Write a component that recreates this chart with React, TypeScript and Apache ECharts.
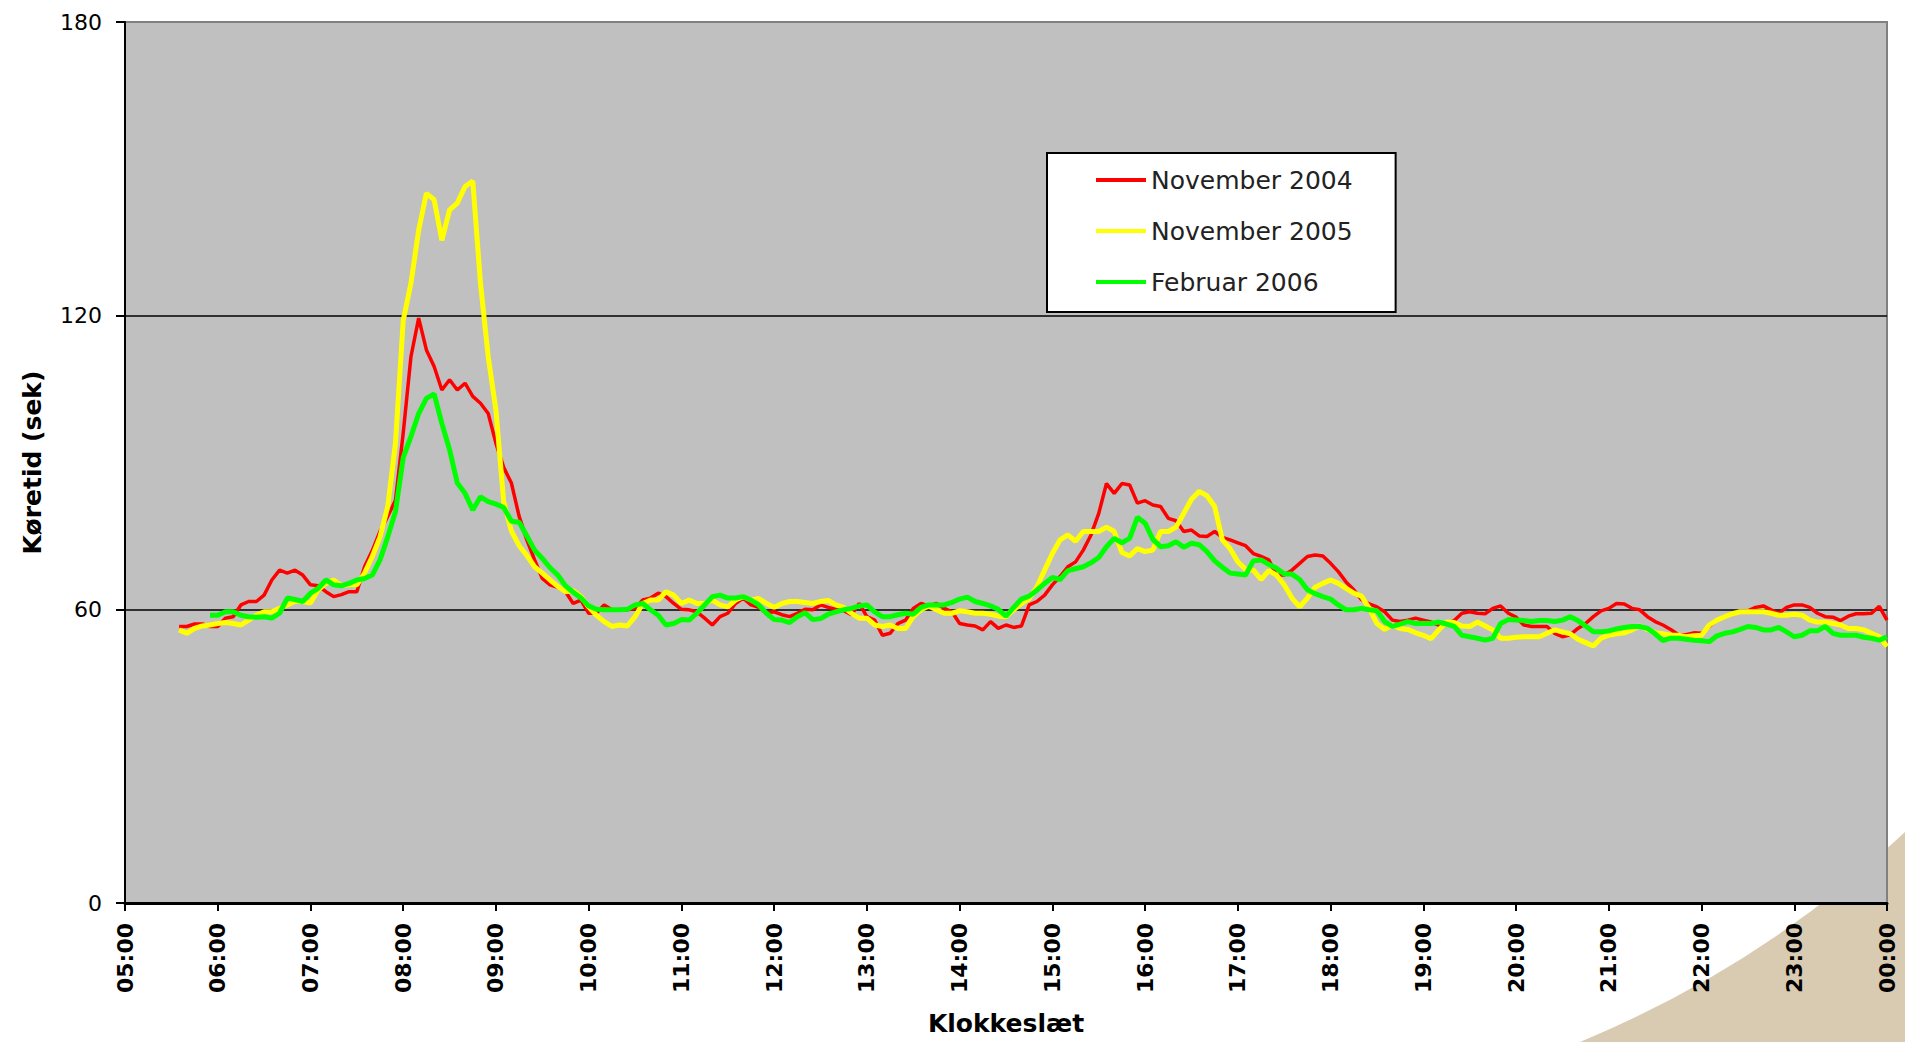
import React, { useEffect, useRef } from "react";
import * as echarts from "echarts";

// time grid: minutes after midnight, 05:30 .. 24:00, every 5 minutes
const minutes: number[] = Array.from({ length: 223 }, (_, i) => 330 + 5 * i);

const xTickLabels = [
  "05:00", "06:00", "07:00", "08:00", "09:00", "10:00", "11:00", "12:00", "13:00", "14:00",
  "15:00", "16:00", "17:00", "18:00", "19:00", "20:00", "21:00", "22:00", "23:00", "00:00",
];

const seriesNames = ["November 2004", "November 2005", "Februar 2006"];

const nov2004: (number | null)[] = [
  null, 56.5, 56.5, 57, 57, 56.5,
  56.5, 58.2, 58.5, 60.9, 61.6, 61.6, 62.9, 66, 68, 67.4, 68, 67,
  65, 64.8, 63.6, 62.6, 63, 63.6, 63.6, 68.7, 72, 75.9, 79, 82.3,
  96, 111.6, 119.5, 113, 109.6, 104.8, 106.9, 104.8, 106.2, 103.5, 102.1, 100,
  93.9, 89, 85.8, 79, 74.2, 70.1, 66.3, 65, 64.5, 63.6, 61.2, 61.9,
  59.2, 59.2, 60.9, 59.9, 59.9, 59.9, 60.2, 61.9, 62.3, 63.3, 62.6, 61.2,
  60, 59.9, 59.5, 58.2, 56.8, 58.5, 59.2, 61.2, 62.3, 60.9, 60.4, 59.3,
  59.5, 58.9, 58.5, 59.2, 60, 59.9, 60.9, 60.4, 60, 59.7, 58.9, 61.2,
  58.5, 57.8, 54.7, 55.1, 57.1, 57.8, 60.2, 61.2, 60.7, 61.2, 60.2, 59.5,
  57.1, 56.8, 56.6, 55.8, 57.5, 56.1, 56.8, 56.3, 56.6, 60.9, 61.6, 62.9,
  65, 66.7, 68.7, 69.7, 72.1, 75.2, 79.6, 85.7, 83.7, 85.7, 85.4, 81.7,
  82.2, 81.3, 81, 78.6, 78.1, 75.9, 76.2, 75, 74.9, 75.9, 74.7, 74.2,
  73.6, 73, 71.4, 70.8, 70.1, 67, 67, 68, 69.4, 70.8, 71.1, 70.9,
  69.4, 67.7, 65.6, 64, 62, 61.1, 60.5, 59.5, 57.8, 57.5, 57.8, 58.2,
  57.8, 57.4, 56.8, 57.1, 57.7, 59.2, 59.5, 59.2, 59.1, 60.2, 60.7, 59.2,
  58.4, 56.8, 56.5, 56.5, 56.5, 55.1, 54.4, 54.8, 56.1, 57.1, 58.5, 59.7,
  60.2, 61.2, 61.1, 60.2, 59.9, 58.5, 57.5, 56.8, 55.9, 54.8, 54.8, 55.2,
  55.1, 56.5, 57.8, 58.5, 59.1, 59.5, 59.7, 60.4, 60.7, 59.9, 59.2, 60.4,
  60.9, 60.9, 60.4, 59.2, 58.5, 58.4, 57.7, 58.6, 59.1, 59.1, 59.2, 60.6,
  57.8,
];

const nov2005: (number | null)[] = [
  null, 55.8, 55.1, 56.1, 56.6, 56.8,
  57.1, 57.3, 57.1, 56.8, 57.8, 58.8, 59.5, 59.5, 60.2, 60.9, 61.6, 61.6,
  61.3, 64, 65.3, 66, 64.8, 65, 65, 67.4, 70.8, 74.8, 81, 94,
  119, 126.6, 137.5, 145, 143.7, 135.4, 141.6, 143, 146.4, 147.5, 126.6, 111.6,
  100.7, 82, 76, 73, 71, 68.7, 67.4, 66, 64.7, 63.6, 63.8, 62.6,
  60.5, 58.8, 57.5, 56.5, 56.8, 56.6, 58.5, 61.2, 61.9, 61.9, 63.6, 62.9,
  61.2, 61.9, 61.2, 61.2, 61.9, 60.9, 60.5, 61.9, 62.6, 61.9, 62.2, 61.2,
  60.4, 61.2, 61.6, 61.6, 61.4, 61.2, 61.6, 61.8, 60.9, 60.4, 59.2, 58.2,
  58.2, 56.8, 56.5, 56.8, 56.1, 56.1, 58.5, 59.9, 60.7, 59.9, 59.2, 59.2,
  59.7, 59.5, 59.2, 59.2, 59, 58.6, 58.5, 59.9, 61.2, 62.2, 64.6, 68,
  71.4, 74.2, 75.2, 73.9, 75.9, 75.9, 75.9, 76.8, 75.9, 71.6, 70.9, 72.4,
  71.8, 72.1, 75.9, 75.9, 76.8, 79.6, 82.5, 84.1, 83.2, 81, 74.2, 72.4,
  69.7, 68.2, 68, 66.1, 67.9, 67, 65, 62.3, 60.5, 62.3, 64.5, 65.3,
  66, 65.3, 64.3, 63.3, 62.7, 60.2, 57.1, 55.9, 56.8, 56.1, 55.9, 55.2,
  54.7, 54, 55.8, 57.4, 57.3, 56.6, 56.5, 57.4, 56.6, 55.8, 54.1, 54.1,
  54.3, 54.4, 54.4, 54.4, 55.1, 55.8, 55.4, 55, 53.9, 53.2, 52.5, 54.1,
  54.7, 55, 55.2, 55.8, 56.6, 55.9, 55.2, 55, 54.7, 54.7, 54.4, 54.6,
  54.7, 56.8, 57.8, 58.5, 59.1, 59.5, 59.5, 59.5, 59.5, 59.2, 58.8, 58.8,
  59, 58.8, 57.8, 57.4, 57.4, 57.1, 56.8, 56.1, 56.1, 55.8, 55.1, 54.4,
  52.4,
];

const feb2006: (number | null)[] = [
  null, null, null, null, null, 58.8,
  58.8, 59.5, 59.5, 58.8, 58.5, 58.4, 58.5, 58.2, 59.2, 62.3, 62, 61.6,
  63.3, 64.3, 66, 65, 64.8, 65.3, 66, 66.3, 67, 70.1, 74.8, 80,
  91, 95.3, 100, 103.1, 104, 98, 92.6, 85.8, 83.7, 80.3, 83, 82,
  81.5, 80.8, 78, 77.8, 75, 72.1, 70.4, 68.5, 67, 64.8, 63.5, 62.3,
  60.7, 60, 59.9, 59.9, 59.9, 60, 60.9, 61.2, 59.9, 58.8, 56.8, 57.1,
  57.9, 57.8, 59.2, 60.9, 62.6, 62.9, 62.3, 62.3, 62.6, 61.9, 60.9, 59.2,
  57.9, 57.8, 57.3, 58.5, 59.3, 57.9, 58.1, 59, 59.5, 59.9, 60.2, 60.7,
  60.9, 59.5, 58.5, 58.5, 58.9, 59.2, 59, 60.4, 60.9, 60.9, 60.9, 61.4,
  62.1, 62.5, 61.6, 61.2, 60.7, 60, 58.6, 60.4, 62.1, 62.7, 63.9, 65.3,
  66.5, 66.1, 67.9, 68.3, 68.7, 69.5, 70.6, 72.8, 74.5, 73.6, 74.5, 78.8,
  77.6, 74.3, 72.8, 73, 73.8, 72.7, 73.5, 73.2, 71.8, 69.9, 68.6, 67.4,
  67.2, 67, 69.9, 70.1, 69.2, 68.4, 67.2, 67.2, 66.1, 64, 63.2, 62.6,
  62.1, 60.9, 59.9, 59.9, 60.2, 59.9, 59.7, 57.5, 56.5, 57, 57.5, 57.1,
  57.1, 57.1, 57.4, 57, 56.5, 54.7, 54.4, 54.1, 53.7, 54.1, 57.1, 57.9,
  57.8, 57.7, 57.5, 57.7, 57.7, 57.5, 57.8, 58.5, 57.7, 56.6, 55.4, 55.4,
  55.6, 56, 56.3, 56.5, 56.5, 56.1, 55, 53.6, 54.1, 54.1, 53.9, 53.7,
  53.6, 53.4, 54.6, 55.1, 55.4, 55.9, 56.5, 56.3, 55.8, 55.8, 56.3, 55.4,
  54.4, 54.7, 55.6, 55.6, 56.5, 55.1, 54.7, 54.7, 54.7, 54.3, 54.1, 53.7,
  54.4,
];

const seriesColors = ["#ff0000", "#ffff00", "#00ff00"];
const seriesWidths = [3.5, 5, 5];

const pairs = (vals: (number | null)[]) =>
  minutes
    .map((m, i) => [m, vals[i]] as [number, number | null])
    .filter((p) => p[1] !== null && p[1] !== undefined);

export default function App() {
  const ref = useRef<HTMLDivElement>(null);

  useEffect(() => {
    if (!ref.current) return;
    echarts.graphic.registerShape(
      "swoosh",
      echarts.graphic.extendPath("M1580 1042 Q1765 965 1905 832 L1905 1042 Z", {})
    );
    const chart = echarts.init(ref.current, null, { renderer: "svg" });
    const font = "DejaVu Sans";
    const allData = [nov2004, nov2005, feb2006];

    chart.setOption({
      animation: false,
      backgroundColor: "#ffffff",
      graphic: [
        {
          type: "swoosh",
          x: 0,
          y: 0,
          z: -10,
          silent: true,
          style: { fill: "#d9cbb1" },
        },
      ],
      grid: {
        left: 125,
        top: 22,
        right: 18,
        bottom: 139,
        show: true,
        backgroundColor: "#c0c0c0",
        borderColor: "#808080",
        borderWidth: 2,
      },
      legend: {
        orient: "vertical",
        left: 1047,
        top: 153,
        backgroundColor: "#ffffff",
        borderColor: "#000000",
        borderWidth: 2,
        borderRadius: 0,
        padding: [12, 43, 15, 49],
        itemWidth: 50,
        itemHeight: 4,
        itemGap: 21,
        icon: "rect",
        textStyle: { fontFamily: font, fontSize: 25, color: "#222222", lineHeight: 30 },
        data: seriesNames,
      },
      xAxis: {
        type: "value",
        min: 300,
        max: 1440,
        interval: 60,
        axisLine: { show: true, onZero: false, lineStyle: { color: "#000", width: 3 } },
        axisTick: { show: true, length: 8, lineStyle: { color: "#000", width: 2 } },
        axisLabel: {
          rotate: 90,
          margin: 20,
          fontFamily: font,
          fontWeight: "bold",
          fontSize: 22,
          color: "#000",
          formatter: (v: number) => xTickLabels[Math.round((v - 300) / 60)] ?? "",
        },
        splitLine: { show: false },
        name: "Klokkeslæt",
        nameLocation: "middle",
        nameGap: 108,
        nameTextStyle: { fontFamily: font, fontWeight: "bold", fontSize: 25, color: "#000" },
      },
      yAxis: {
        type: "value",
        min: 0,
        max: 180,
        interval: 60,
        axisLine: { show: true, lineStyle: { color: "#000", width: 2 } },
        axisTick: { show: true, length: 9, lineStyle: { color: "#000", width: 2 } },
        axisLabel: { margin: 23, fontFamily: font, fontSize: 22, color: "#000" },
        splitLine: {
          show: true,
          showMinLine: false,
          showMaxLine: false,
          lineStyle: { color: "#000", width: 1.5 },
        },
        name: "Køretid (sek)",
        nameLocation: "middle",
        nameGap: 80,
        nameRotate: 90,
        nameTextStyle: { fontFamily: font, fontWeight: "bold", fontSize: 25, color: "#000" },
      },
      series: seriesNames.map((name, k) => ({
        name,
        type: "line",
        data: pairs(allData[k]),
        symbol: "none",
        showSymbol: false,
        lineStyle: { color: seriesColors[k], width: seriesWidths[k] },
        itemStyle: { color: seriesColors[k] },
      })),
    });

    return () => chart.dispose();
  }, []);

  return (
    <div
      ref={ref}
      style={{ position: "fixed", left: 0, top: 0, width: 1905, height: 1042, background: "#fff" }}
    />
  );
}
